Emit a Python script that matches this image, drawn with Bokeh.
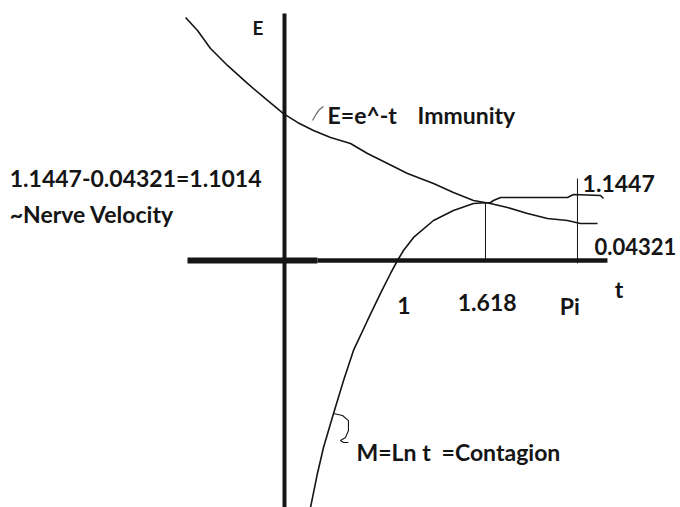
from bokeh.plotting import figure
from bokeh.embed import file_html
from bokeh.resources import INLINE
from bokeh.core.properties import value

# ---- sketch data (units: t along the horizontal, E along the vertical; hand-drawn, not to scale)
e_t = [-0.868, -0.763, -0.649, -0.5, -0.325, -0.149, -0.009, 0.114, 0.254, 0.404, 0.579, 0.728,
       0.904, 1.079, 1.307, 1.482, 1.658, 1.807, 1.956, 2.132, 2.307, 2.482, 2.596, 2.746]
e_val = [2.132, 2.018, 1.860, 1.711, 1.553, 1.404, 1.289, 1.211, 1.140, 1.079, 1.026, 0.939,
         0.851, 0.763, 0.675, 0.596, 0.526, 0.500, 0.465, 0.412, 0.368, 0.351, 0.325, 0.325]

m_t = [0.228, 0.289, 0.342, 0.430, 0.518, 0.605, 0.728, 0.842, 0.930, 0.991, 1.044, 1.132,
       1.307, 1.482, 1.658, 1.807, 1.833, 1.895, 2.482, 2.535, 2.772, 2.798]
m_val = [-2.167, -1.868, -1.640, -1.342, -1.053, -0.789, -0.526, -0.289, -0.114, 0.0, 0.088, 0.202,
         0.351, 0.439, 0.500, 0.509, 0.526, 0.553, 0.553, 0.579, 0.570, 0.544]

conn_e_t = [0.246, 0.281, 0.307, 0.342]
conn_e_v = [1.228, 1.289, 1.325, 1.351]
brace_t = [0.430, 0.509, 0.561, 0.561, 0.535, 0.491, 0.518, 0.561]
brace_v = [-1.342, -1.360, -1.404, -1.491, -1.553, -1.579, -1.596, -1.596]

# axes extents
t_axis = [-0.851, 2.833]
e_axis = [-2.25, 2.167]

# drop lines (tick marks at 1.618 and Pi)
drop_t = [1.763, 2.570]
drop_lo = [0.0, -0.026]
drop_hi = [0.509, 0.719]

tick_labels = ["1", "1.618", "Pi"]
tick_t = [0.99, 1.52, 2.415]
tick_v = [-0.395, -0.368, -0.395]

ann_text = ["1.1447-0.04321=1.1014", "~Nerve Velocity", "E=e^-t", "Immunity",
            "1.1447", "M=Ln t", "=Contagion", "t"]
ann_t = [-2.41, -2.41, 0.378, 1.167, 2.615, 0.632, 1.378, 2.898]
ann_v = [0.728, 0.412, 1.272, 1.272, 0.675, -1.684, -1.684, -0.246]

small_text = ["0.04321"]
small_t = [2.72]
small_v = [0.123]

# ---- layout: 114 px per unit, origin at pixel (284, 260) of the page
S = 114.0
W, H = 680, 507
OX, OY = 284, 260
x_range = (-OX / S, (W - OX) / S)
y_range = ((OY - H) / S, OY / S)

p = figure(width=W, height=H, x_range=x_range, y_range=y_range,
           output_backend="svg", toolbar_location=None,
           x_axis_type=None, y_axis_type=None, min_border=0)
p.grid.visible = False
p.outline_line_color = None
p.background_fill_color = "white"
p.border_fill_color = "white"

ink = "#151515"

# axes
p.line([0, 0], e_axis, line_color=ink, line_width=4)
p.line([t_axis[0], 0.289], [0, 0], line_color=ink, line_width=6)
p.line([0.289, t_axis[1]], [0, 0], line_color=ink, line_width=4.5)

# curves
p.line(e_t, e_val, line_color=ink, line_width=1.6)
p.line(m_t, m_val, line_color=ink, line_width=1.6)
p.line(conn_e_t, conn_e_v, line_color="#666666", line_width=1.2)
p.line(brace_t, brace_v, line_color=ink, line_width=1.1)

# drop lines
p.segment(x0=drop_t, y0=drop_lo, x1=drop_t, y1=drop_hi, line_color=ink, line_width=1)

font = value("Lato")
p.text(x=tick_t, y=tick_v, text=tick_labels, text_font=font, text_font_size="23px",
       text_color=ink, text_baseline="alphabetic", text_align="left", text_font_style="bold")
p.text(x=ann_t, y=ann_v, text=ann_text, text_font=font, text_font_size="23px",
       text_color=ink, text_baseline="alphabetic", text_align="left", text_font_style="bold")
p.text(x=small_t, y=small_v, text=small_text, text_font=font, text_font_size="22px",
       text_color=ink, text_baseline="alphabetic", text_align="left", text_font_style="bold")
p.text(x=[-0.28], y=[2.044], text=["E"], text_font=font, text_font_size="19px",
       text_color=ink, text_baseline="alphabetic", text_align="left", text_font_style="bold")

open("out.html", "w").write(file_html(p, INLINE))
